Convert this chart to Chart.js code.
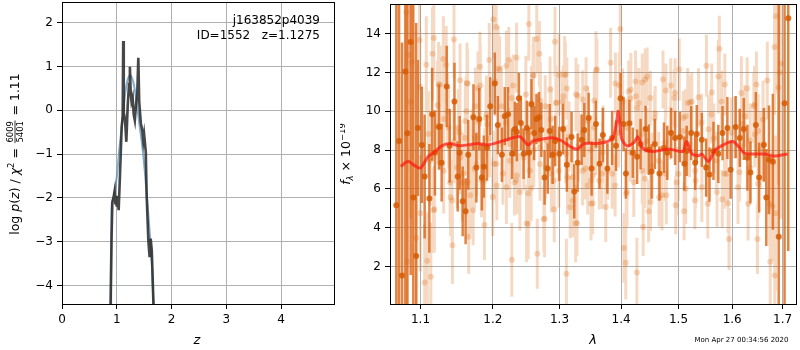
<!DOCTYPE html>
<html><head><meta charset="utf-8">
<script src="https://cdn.jsdelivr.net/npm/chart.js@4.4.0/dist/chart.umd.min.js"></script>
<style>
html,body{margin:0;padding:0;background:#fff;}
body{width:800px;height:350px;overflow:hidden;position:relative;}
#w1{position:absolute;left:0;top:0;width:340px;height:350px;}
#w2{position:absolute;left:340px;top:0;width:460px;height:350px;}
</style>
</head><body>
<div id="w1"><canvas id="c1"></canvas></div>
<div id="w2"><canvas id="c2"></canvas></div>
<script>
// ---------- left panel: log p(z) ----------
const pzZ = [0.880,0.905,0.920,0.940,0.960,0.975,0.990,1.000,1.015,1.035,1.060,1.090,1.108,1.118,1.128,1.150,1.175,1.200,1.225,1.240,1.255,1.270,1.290,1.310,1.330,1.350,1.375,1.394,1.410,1.440,1.465,1.485,1.500,1.530,1.547,1.577,1.600,1.620,1.640,1.685];
const pzLog = [-5.0,-2.9,-2.1,-2.0,-1.85,-2.15,-1.95,-2.2,-1.98,-2.28,-1.45,-0.38,-0.15,1.58,-0.05,-0.2,-0.72,0.1,0.6,0.99,0.4,0.2,0.3,-0.1,-0.23,0.1,0.4,1.2,0.2,-0.3,-0.45,-0.7,-0.55,-0.95,-1.98,-2.97,-3.35,-2.93,-3.2,-5.0];
const fitZ = [0.895,0.905,0.912,0.950,1.000,1.050,1.090,1.150,1.200,1.245,1.300,1.350,1.420,1.470,1.516,1.560,1.607,1.645,1.685];
const fitLog = [-5.0,-2.6,-2.1,-1.95,-1.52,-0.85,-0.4,0.35,0.7,0.8,0.65,0.3,-0.38,-0.85,-1.45,-2.1,-2.89,-3.6,-5.0];
const zTicks = [0,1,2,3,4];
const pTicks = [-4,-3,-2,-1,0,1,2];

// ---------- right panel: spectrum ----------
const darkWave = [1.0685,1.0720,1.0759,1.0801,1.0827,1.0871,1.0905,1.0943,1.0965,1.1018,
1.1055,1.1118,1.1155,1.1192,1.1247,1.1283,1.1352,1.1393,1.1458,1.1503,
1.1530,1.1572,1.1613,1.1650,1.1723,1.1764,1.1805,1.1842,1.1870,1.1915,
1.1962,1.2027,1.2072,1.2131,1.2172,1.2221,1.2281,1.2321,1.2351,1.2381,
1.2411,1.2451,1.2500,1.2534,1.2570,1.2609,1.2645,1.2684,1.2720,1.2769,
1.2818,1.2848,1.2893,1.2933,1.2997,1.3056,1.3116,1.3190,1.3233,1.3287,
1.3351,1.3394,1.3464,1.3512,1.3583,1.3641,1.3696,1.3770,1.3850,1.3914,
1.3990,1.4042,1.4081,1.4140,1.4198,1.4272,1.4331,1.4418,1.4475,1.4522,
1.4579,1.4660,1.4740,1.4799,1.4868,1.4938,1.5026,1.5106,1.5148,1.5230,
1.5304,1.5333,1.5426,1.5507,1.5569,1.5643,1.5735,1.5815,1.5907,1.5970,
1.6067,1.6146,1.6224,1.6295,1.6354,1.6461,1.6526,1.6618,1.6669,1.6723,
1.6801,1.6920,1.7039,1.7115];
const darkFlux = [5.16,8.47,1.54,12.05,8.87,13.57,5.56,2.55,9.14,8.27,
6.64,5.51,9.85,7.86,9.19,7.35,11.28,8.22,10.5,6.64,
7.86,5.36,4.85,7.76,9.7,7.1,9.6,6.59,7.15,8.12,
10.26,11.43,9.29,7.76,9.75,9.85,7.81,9.09,8.93,10.67,
9.4,7.81,9.14,7.86,10.36,8.88,9.6,9.7,9.04,6.59,
7.05,8.98,7.76,8.47,7.81,9.09,7.25,8.68,5.87,7.35,
8.53,9.04,9.65,7.05,9.34,7.3,8.78,7.05,8.63,8.22,
10.67,9.34,6.79,9.39,7.86,7.66,8.32,9.09,8.02,6.9,
8.32,6.79,8.12,7.86,8.88,8.63,8.68,7.3,7.96,8.88,
7.35,8.83,8.53,7.1,6.74,7.96,7.81,8.88,9.14,6.99,
9.19,8.63,9.09,7.61,6.85,9.29,6.59,8.27,5.56,7.5,
7.4,3.53,10.41,14.8];
const darkErr = [12,12,12,12,12,12,12,12,3.5,3.0,
3.2,2.8,2.4,2.2,2.2,2.0,2.1,1.9,2.0,1.8,
1.9,1.8,1.7,1.8,1.7,1.8,1.6,1.7,1.6,1.7,
1.5,1.6,1.5,1.4,1.5,1.4,1.3,1.4,1.5,1.3,
1.4,1.3,1.4,1.3,1.3,1.4,1.3,1.3,1.4,1.4,
1.3,1.4,1.5,1.3,1.4,1.3,1.4,1.3,1.4,1.5,
1.3,1.4,1.3,1.4,1.2,1.3,1.4,1.3,1.4,1.3,
1.3,1.4,1.3,1.2,1.3,1.4,1.3,1.2,1.3,1.4,
1.3,1.4,1.3,1.4,1.3,1.4,1.3,1.4,1.3,1.4,
1.4,1.5,1.4,1.5,1.4,1.5,1.5,1.4,1.6,1.5,
1.6,1.5,1.6,1.7,1.6,1.7,1.8,1.9,2.5,2.8,
3.5,12,12,12];

// light (lower-weight) points, first batch
const lightWaveA = [1.0814,1.0845,1.0888,1.0871,1.0827,1.0943,1.0987,1.0997,1.1055,1.1091,
1.1077,1.1137,1.1160,1.1185,1.1178,1.1228,1.1261,1.1306,1.1345,1.1312,
1.1398,1.1405,1.1430,1.1452,1.1513,1.1536,1.1567,1.1608,1.1640,1.1656,
1.1719,1.1750,1.1787,1.1815,1.1836,1.1879,1.1901,1.1948,1.2007,1.2033,
1.2048,1.2097,1.2197,1.2231,1.2346,1.2296,1.2276,1.2316,1.2520,1.2530,
1.2650,1.2690,1.2594,1.2658,1.2758,1.2779,1.2854,1.2929,1.2918,1.2958,
1.3061,1.3093,1.3116,1.3109,1.3169,1.3277,1.3290,1.3367,1.3422,1.3448,
1.3528,1.3555,1.3599,1.3636,1.3824,1.3905,1.3985,1.3969,1.4047,1.4078,
1.4085,1.4128,1.4158,1.4268,1.4244,1.4359,1.4412,1.4445,1.4470,1.4376,
1.4504,1.4585,1.4655,1.4723,1.4775,1.4782,1.4861,1.4948,1.5013,1.5100,
1.5130,1.5211,1.5298,1.5365,1.5512,1.5611,1.5754,1.5810,1.5859,1.5920,
1.5939,1.6197,1.6290,1.6421,1.6492,1.6473,1.6689,1.6748,1.6795,1.6835,
1.6866,1.6914,1.6945,1.6965,1.6840,1.6855,1.1104,1.1232,1.1365,1.1528,
1.1540,1.1622,1.1643,1.1746,1.1769,1.1874,1.1921,1.2022,1.2057,1.2192,
1.2146,1.2306,1.2340,1.2455,1.2515,1.2565,1.2694,1.2784,1.2869,1.2912,
1.3045,1.3100,1.3206,1.3370,1.3411,1.3502,1.3578,1.3689,1.3775,1.3900,
1.4024,1.4099,1.4155,1.4275,1.4355,1.4406,1.4500,1.4575,1.4648,1.4764,
1.4851,1.4925,1.4995,1.5087,1.5241,1.5310,1.5420,1.5519,1.5605,1.5704,
1.5796,1.5889,1.6047,1.6140,1.6244,1.6343,1.6441,1.6506,1.6624];
const lightFluxA = [15.1,12.9,12.55,10.48,2.25,3.47,13.68,4.75,1.18,2.3,
12.4,1.48,12.96,4.95,13.78,10.31,11.38,12.7,12.4,9.6,
6.33,5.57,3.1,13.7,9.14,11.6,6.33,8.63,11.43,3.53,
4.9,10.26,11.18,12.3,6.44,4.14,9.65,12.65,14.75,11.54,
14.34,12.15,12.35,12.65,12.76,11.33,2.35,6.33,4.19,14.5,
13.73,12.96,11.84,2.66,4.44,10.26,11.13,13.58,4.95,10.46,
10.77,11.89,11.18,1.63,5.06,4.24,10.82,10.61,11.18,6.18,
5.26,10.56,12.15,6.44,12.5,11.43,14.24,11.33,2.96,2.2,
5.77,11.02,10.67,1.69,11.54,11.48,11.64,11.79,4.85,4.04,
5.33,9.9,5.57,11.64,11.07,5.67,11.33,5.16,12.15,4.85,
9.75,10.46,5.42,10.72,12.35,10.97,13.22,5.47,11.38,5.26,
3.42,9.34,11.18,10.26,3.42,11.38,11.59,2.25,5.11,13.32,
14.9,11.23,12.0,12.45,1.54,4.75,8.83,9.24,10.0,8.9,
7.62,10.0,6.35,8.64,7.3,6.43,9.34,7.3,6.18,9.41,
6.79,8.9,6.43,7.62,8.9,6.03,8.13,7.11,9.6,6.43,
10.5,7.81,6.6,8.9,7.05,6.43,8.22,7.88,6.94,6.18,
10.5,9.15,7.88,10.17,8.82,6.52,10.68,9.66,7.45,6.78,
8.9,10.68,6.78,9.66,10.5,6.43,9.41,7.03,9.84,7.45,
10.5,6.78,9.15,6.86,9.75,7.11,8.82,6.27,8.31];
const lightErrA = [8,6,5,6,7,4,3,3,3,2.5,
2.5,2.8,2.4,2.2,2.2,2.3,2.0,2.2,2.0,2.0,
2.1,2.0,2.0,2.0,2.0,1.9,2.0,1.9,1.8,1.9,
1.8,2.0,1.9,1.8,1.9,1.8,1.7,1.9,2.0,1.8,
1.9,1.7,1.8,1.7,1.8,1.6,1.9,1.7,1.8,1.9,
1.8,1.7,1.6,1.8,1.7,1.6,1.7,1.8,1.7,1.6,
1.6,1.7,1.6,1.8,1.6,1.7,1.6,1.5,1.6,1.5,
1.6,1.5,1.6,1.5,1.8,1.6,1.9,1.7,1.8,1.9,
1.7,1.6,1.5,1.8,1.6,1.5,1.6,1.5,1.6,1.5,
1.5,1.4,1.5,1.5,1.4,1.5,1.4,1.5,1.6,1.5,
1.4,1.4,1.5,1.5,1.6,1.5,1.7,1.5,1.6,1.5,
1.6,1.5,1.6,1.7,1.8,1.7,2.0,2.5,2.8,3.5,
4,5,6,8,3,4,2.2,2.0,2.0,1.9,
1.9,1.8,1.8,1.8,1.7,1.8,1.7,1.7,1.8,1.7,
1.6,1.7,1.6,1.7,1.6,1.7,1.6,1.6,1.7,1.6,
1.6,1.5,1.6,1.5,1.6,1.5,1.5,1.6,1.5,1.6,
1.7,1.5,1.5,1.5,1.4,1.5,1.4,1.4,1.5,1.4,
1.4,1.5,1.4,1.4,1.5,1.4,1.5,1.4,1.5,1.5,
1.6,1.5,1.6,1.5,1.6,1.7,1.7,1.8,1.9];

// light points, second batch
const lightWaveB = [1.1242,1.1632,1.1820,1.2076,1.2600,1.2993,1.3080,1.3583,1.0991,1.1265,
1.1379,1.1609,1.1791,1.1907,1.2122,1.2272,1.2485,1.2570,1.2705,1.2944,
1.3261,1.3448,1.3555,1.1128,1.1311,1.1495,1.1585,1.1740,1.1883,1.2048,
1.2246,1.2350,1.2545,1.2700,1.2875,1.2990,1.3126,1.3367,1.3532,1.1173,
1.1426,1.1677,1.1998,1.2197,1.2396,1.2520,1.2769,1.3206,1.3255,1.3502,
1.2496,1.4165,1.4250,1.4302,1.4938,1.5167,1.5735,1.6177,1.6435,1.6604,
1.3680,1.3850,1.4099,1.4215,1.4359,1.4532,1.4705,1.4965,1.5130,1.5304,
1.5426,1.5537,1.5710,1.5850,1.6112,1.6309,1.6736,1.3744,1.4764,1.5087,
1.5550,1.5982,1.6506,1.3958,1.4445,1.1450,1.1700,1.1950,1.2250,1.2605,
1.2800,1.3150,1.3300,1.3500,1.3700,1.5200,1.5650,1.6150,1.6350,1.6550];
const lightFluxB = [11.37,11.45,11.33,12.2,11.84,11.88,11.88,12.13,11.28,9.24,
9.15,9.5,9.46,9.84,10.26,10.68,10.86,10.43,10.55,10.43,
10.86,9.5,9.15,7.45,6.94,7.11,6.78,7.03,7.11,7.29,
7.45,6.69,6.94,7.29,6.78,6.94,6.6,6.94,6.69,4.9,
5.41,5.67,5.58,6.09,5.84,5.76,4.48,5.41,4.22,5.24,
4.22,11.11,10.77,10.43,10.94,10.43,11.79,10.94,10.35,9.58,
6.78,6.78,5.84,6.35,6.94,7.2,5.67,6.35,6.01,6.94,
6.09,5.24,5.84,6.78,6.09,5.24,5.24,5.07,8.39,8.98,
9.07,8.9,8.98,8.9,8.47,8.4,8.1,8.6,8.3,8.0,
8.5,8.7,8.2,8.0,8.5,8.3,8.6,8.2,8.5,8.0];
const lightErrB = [2.2,2.1,2.1,2.2,2.0,2.1,2.0,2.0,3.0,2.2,
2.1,2.1,2.0,2.0,2.1,2.0,2.0,1.9,2.0,1.9,
1.9,1.8,1.9,2.3,2.2,2.1,2.1,2.0,2.0,2.0,
1.9,2.0,1.9,1.9,2.0,1.9,1.9,1.8,1.9,2.2,
2.1,2.0,2.0,1.9,2.0,1.9,2.0,1.9,2.0,1.9,
2.0,1.9,1.8,1.8,1.8,1.8,1.9,1.9,2.0,2.0,
1.8,1.8,1.8,1.8,1.7,1.7,1.8,1.7,1.8,1.7,
1.8,1.8,1.8,1.8,1.9,1.9,2.2,1.8,1.7,1.7,
1.8,1.8,1.9,1.8,1.7,2.1,2.0,2.0,1.9,1.9,
1.9,1.8,1.8,1.8,1.8,1.7,1.8,1.9,1.9,2.0];

const modelWave = [1.0742,1.0836,1.0923,1.1000,1.1100,1.1192,1.1283,1.1398,1.1513,1.1650,
1.1787,1.1925,1.2067,1.2221,1.2396,1.2520,1.2594,1.2720,1.2893,1.3019,
1.3153,1.3277,1.3394,1.3555,1.3716,1.3861,1.3925,1.3950,1.3980,1.4012,
1.4099,1.4215,1.4289,1.4359,1.4532,1.4705,1.4851,1.5026,1.5087,1.5148,
1.5241,1.5365,1.5426,1.5550,1.5674,1.5859,1.6014,1.6112,1.6244,1.6441,
1.6638,1.6768,1.6900,1.7101];
const modelFlux = [7.16,7.42,7.2,7.08,7.66,7.91,8.22,8.34,8.23,8.27,
8.34,8.27,8.39,8.56,8.69,8.27,8.47,8.56,8.64,8.51,
8.22,8.05,8.34,8.34,8.39,8.64,9.5,10.0,9.3,8.56,
8.22,8.39,8.68,8.13,7.93,8.01,8.05,7.93,7.95,8.44,
7.83,7.71,7.8,7.42,8.0,8.31,8.44,8.22,7.83,7.8,
7.8,7.71,7.71,7.8];
const lamTicks = [1.1,1.2,1.3,1.4,1.5,1.6,1.7];
const fluxTicks = [2,4,6,8,10,12,14];

// ---------- helpers ----------
const FAM = "'DejaVu Sans', 'Liberation Sans', sans-serif";
const lightWave = lightWaveA.concat(lightWaveB);
const lightFlux = lightFluxA.concat(lightFluxB);
const lightErr = lightErrA.concat(lightErrB);
function pts(xs, ys){ return xs.map((x,i)=>({x:x, y:ys[i]})); }
function errSegs(w, f, e){
  const out = [];
  for (let i=0;i<w.length;i++){
    out.push({x:w[i], y:f[i]-e[i]}, {x:w[i], y:f[i]+e[i]}, {x:w[i], y:null});
  }
  return out;
}
function drawRich(ctx, runs, cx, cy, rot){
  ctx.save();
  ctx.translate(cx, cy);
  ctx.rotate(rot);
  ctx.fillStyle = '#000';
  ctx.textBaseline = 'alphabetic';
  const font = r => (r.italic ? 'italic ' : '') + r.size + 'px ' + FAM;
  const widths = runs.map(r => {
    if (r.frac){ ctx.font = r.size + 'px ' + FAM;
      return Math.max(ctx.measureText(r.frac[0]).width, ctx.measureText(r.frac[1]).width) + 3; }
    ctx.font = font(r); return ctx.measureText(r.t).width;
  });
  const total = widths.reduce((a,b)=>a+b,0);
  let x = -total/2;
  const base = 4.3;
  runs.forEach((r,i)=>{
    if (r.frac){
      ctx.font = r.size + 'px ' + FAM;
      ctx.textAlign = 'center';
      const w = widths[i];
      ctx.fillText(r.frac[0], x + w/2, -1.6);
      ctx.fillText(r.frac[1], x + w/2, 7.6);
      ctx.fillRect(x + 1, -0.4, w - 2, 0.8);
    } else {
      ctx.font = font(r);
      ctx.textAlign = 'left';
      ctx.fillText(r.t, x, base - (r.dy || 0));
    }
    x += widths[i];
  });
  ctx.restore();
}
const al = p => Math.round(p - 0.5) + 0.5;
const framePlugin = {
  id: 'frame',
  afterDraw(chart){
    const {ctx, chartArea:a} = chart;
    ctx.save();
    ctx.strokeStyle = '#000'; ctx.lineWidth = 1;
    const l = al(a.left), t = al(a.top), r = al(a.right), b = al(a.bottom);
    ctx.strokeRect(l, t, r - l, b - t);
    ctx.restore();
  }
};
function fixTicks(vals){ return s => { s.ticks = vals.map(v=>({value:v})); }; }
function fitX(h){ return s => { s.height = h; s.paddingLeft = 0; s.paddingRight = 0; }; }
function fitY(w){ return s => { s.width = w; s.paddingTop = 0; s.paddingBottom = 0; }; }
const gridCfg = {color:'#b0b0b0', lineWidth:1, tickColor:'#000', tickLength:5, tickWidth:1, drawTicks:true};
const tickFont = {family: FAM, size: 12};

// ---------- left chart ----------
const leftText = {
  id:'leftText',
  afterDraw(chart){
    const ctx = chart.ctx;
    ctx.save();
    ctx.fillStyle = '#000';
    ctx.font = '12px ' + FAM;
    ctx.textAlign = 'right'; ctx.textBaseline = 'alphabetic';
    ctx.fillText('j163852p4039', 320, 24);
    ctx.fillText('ID=1552   z=1.1275', 320, 39);
    ctx.textAlign = 'center';
    ctx.font = 'italic 13px ' + FAM;
    ctx.fillText('z', 197, 344);
    ctx.restore();
    drawRich(ctx, [
      {t:'log ', size:12.5},
      {t:'p', size:12.5, italic:true},
      {t:'(', size:12.5},
      {t:'z', size:12.5, italic:true},
      {t:') / ', size:12.5},
      {t:'χ', size:12.5, italic:true},
      {t:'2', size:8.5, dy:5},
      {t:' = ', size:12.5},
      {frac:['6009','5401'], size:8.5},
      {t:' = 1.11', size:12.5}
    ], 15, 154, -Math.PI/2);
  }
};

new Chart(document.getElementById('c1'), {
  type: 'line',
  data: { datasets: [
    { data: pts(pzZ, pzLog), borderColor:'rgba(45,45,45,0.88)', borderWidth:2.6, pointRadius:0, tension:0, fill:false },
    { data: pts(fitZ, fitLog), borderColor:'rgba(90,145,190,0.75)', borderWidth:2, pointRadius:0, tension:0.35, fill:false }
  ]},
  options: {
    responsive:true, maintainAspectRatio:false, animation:false, devicePixelRatio:1,
    layout:{padding:{top:2, right:6, left:0, bottom:0}},
    plugins:{legend:{display:false}, tooltip:{enabled:false}},
    events: [],
    scales:{
      x:{ type:'linear', min:0, max:4.968, afterBuildTicks: fixTicks(zTicks), afterFit: fitX(46),
          grid: gridCfg, border:{color:'#000', width:1},
          ticks:{font:tickFont, color:'#000', padding:4, maxRotation:0, autoSkip:false, callback: v => String(v)} },
      y:{ type:'linear', min:-4.42, max:2.47, afterBuildTicks: fixTicks(pTicks), afterFit: fitY(62),
          grid: gridCfg, border:{color:'#000', width:1},
          ticks:{font:tickFont, color:'#000', padding:4, autoSkip:false, callback: v => (v<0 ? '\u2212' + Math.abs(v) : String(v))} }
    }
  },
  plugins:[framePlugin, leftText]
});

// ---------- right chart ----------
const rightText = {
  id:'rightText',
  afterDraw(chart){
    const ctx = chart.ctx;
    ctx.save();
    ctx.fillStyle = '#000';
    ctx.textAlign = 'center'; ctx.textBaseline = 'alphabetic';
    ctx.font = 'italic 13px ' + FAM;
    ctx.fillText('λ', 593-340, 344);
    ctx.font = '7px ' + FAM;
    ctx.fillText('Mon Apr 27 00:34:56 2020', 741.5-340, 342);
    ctx.restore();
    drawRich(ctx, [
      {t:'f', size:12.5, italic:true},
      {t:'λ', size:8.5, italic:true, dy:-3},
      {t:' × 10', size:12.5},
      {t:'\u221219', size:8.5, dy:5.5}
    ], 6, 154, -Math.PI/2);
  }
};

new Chart(document.getElementById('c2'), {
  type: 'line',
  data: { datasets: [
    { data: pts(modelWave, modelFlux), borderColor:'rgba(255,25,15,0.72)', borderWidth:3, pointRadius:0, tension:0.3, fill:false },
    { data: pts(darkWave, darkFlux), showLine:false, pointRadius:3, pointBackgroundColor:'rgba(214,92,4,0.85)', pointBorderWidth:0, borderColor:'rgba(0,0,0,0)' },
    { data: errSegs(darkWave, darkFlux, darkErr), borderColor:'rgba(217,100,20,0.8)', borderWidth:2.5, pointRadius:0, spanGaps:false, borderCapStyle:'butt', fill:false },
    { data: pts(lightWave, lightFlux), showLine:false, pointRadius:3, pointBackgroundColor:'rgba(217,95,2,0.24)', pointBorderWidth:0, borderColor:'rgba(0,0,0,0)' },
    { data: errSegs(lightWave, lightFlux, lightErr), borderColor:'rgba(217,95,2,0.24)', borderWidth:3, pointRadius:0, spanGaps:false, borderCapStyle:'butt', fill:false }
  ]},
  options: {
    responsive:true, maintainAspectRatio:false, animation:false, devicePixelRatio:1,
    layout:{padding:{top:2, right:1.5, left:0, bottom:0}},
    plugins:{legend:{display:false}, tooltip:{enabled:false}},
    events: [],
    scales:{
      x:{ type:'logarithmic', min:1.0604, max:1.7275, afterBuildTicks: fixTicks(lamTicks), afterFit: fitX(46),
          grid: gridCfg, border:{color:'#000', width:1},
          ticks:{font:tickFont, color:'#000', padding:4, maxRotation:0, autoSkip:false, callback: v => Number(v).toFixed(1)} },
      y:{ type:'linear', min:0.07, max:15.53, afterBuildTicks: fixTicks(fluxTicks), afterFit: fitY(50),
          grid: gridCfg, border:{color:'#000', width:1},
          ticks:{font:tickFont, color:'#000', padding:4, autoSkip:false, callback: v => String(v)} }
    }
  },
  plugins:[framePlugin, rightText]
});
</script>
</body></html>
